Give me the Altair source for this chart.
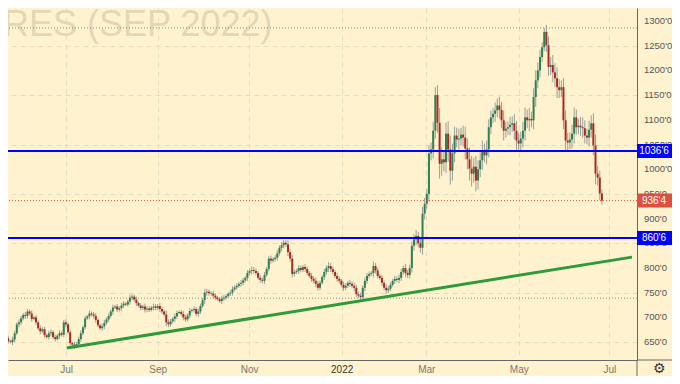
import json
import altair as alt
import pandas as pd

# ---- data ----
closes = [
    658, 652, 650, 655, 668, 686, 690, 698, 705, 703,
    712, 708, 697, 700, 690, 678, 672, 676, 664, 660,
    668, 670, 660, 656, 663, 668, 665, 690, 686, 670,
    648, 645, 642, 646, 656, 668, 680, 698, 702, 708,
    706, 703, 695, 684, 678, 682, 689, 696, 703, 712,
    720, 722, 716, 719, 724, 728, 726, 732, 740, 742,
    736, 729, 724, 719, 722, 716, 718, 715, 720, 722,
    719, 723, 717, 712, 706, 690, 686, 692, 697, 702,
    709, 711, 707, 700, 696, 704, 713, 715, 717, 707,
    712, 723, 735, 750, 752, 749, 748, 744, 740, 737,
    733, 738, 740, 743, 748, 750, 757, 761, 764, 768,
    770, 775, 780, 790, 794, 796, 794, 790, 780, 776,
    774, 786, 798, 819, 815, 818, 821, 830, 841, 846,
    851, 848, 832, 819, 788, 792, 794, 800, 796, 802,
    798, 790, 784, 778, 774, 768, 760, 770, 782, 792,
    800, 804, 798, 792, 784, 778, 774, 766, 760, 764,
    770, 768, 764, 760, 747, 744, 741, 760, 774, 784,
    788, 790, 804, 795, 784, 780, 770, 760, 755, 758,
    766, 774, 778, 776, 780, 792, 800, 790, 786, 800,
    845, 858, 865, 850, 841, 910, 930, 950, 1032, 1040,
    1078, 1150, 1094, 1011, 1020, 1014, 1072, 1040, 997, 1032,
    1068, 1060, 1062, 1070, 1064, 1042, 1020, 1001, 991, 1005,
    977, 1000, 1018, 1038, 1028, 1040, 1085, 1105, 1112, 1119,
    1129, 1120, 1099, 1078, 1082, 1085, 1090, 1093, 1078, 1058,
    1052, 1062, 1078, 1105, 1099, 1102, 1099, 1146, 1180, 1200,
    1227, 1247, 1278, 1251, 1207, 1211, 1196, 1184, 1166, 1160,
    1166, 1099, 1058, 1054, 1060, 1072, 1105, 1085, 1088, 1085,
    1083, 1068, 1064, 1080, 1093, 1048, 991, 983, 951, 936.4,
]
wick = [
    4, 5, 3, 6, 5, 4, 6, 5, 4, 6,
    5, 4, 6, 3, 5, 4, 6, 4, 5, 3,
    5, 6, 4, 5, 3, 6, 4, 5, 6, 4,
    5, 3, 6, 4, 5, 6, 4, 5, 3, 6,
    4, 5, 6, 4, 3, 5, 6, 4, 5, 4,
    6, 3, 5, 4, 6, 5, 3, 4, 6, 5,
    4, 6, 3, 5, 4, 6, 5, 4, 3, 6,
    5, 4, 6, 5, 4, 8, 6, 5, 4, 6,
    5, 3, 4, 6, 5, 4, 6, 3, 5, 4,
    6, 5, 4, 8, 6, 5, 4, 6, 5, 3,
    4, 6, 5, 4, 3, 5, 6, 4, 5, 4,
    6, 5, 4, 6, 5, 7, 6, 5, 4, 6,
    5, 6, 4, 5, 6, 4, 5, 6, 5, 7,
    6, 5, 8, 6, 7, 5, 4, 6, 5, 4,
    6, 5, 4, 6, 5, 7, 6, 5, 4, 6,
    5, 8, 6, 5, 4, 6, 5, 4, 6, 5,
    4, 6, 5, 7, 6, 5, 6, 5, 7, 6,
    5, 4, 9, 6, 5, 4, 6, 5, 7, 6,
    5, 4, 6, 5, 7, 6, 5, 8, 6, 7,
    9, 10, 12, 8, 10, 14, 12, 10, 16, 14,
    18, 16, 20, 30, 24, 18, 22, 25, 28, 20,
    18, 16, 20, 14, 18, 22, 20, 24, 26, 18,
    22, 18, 16, 20, 14, 18, 16, 14, 12, 16,
    14, 18, 16, 20, 14, 12, 16, 14, 18, 20,
    16, 14, 18, 20, 16, 22, 14, 18, 20, 16,
    14, 10, 8, 14, 18, 16, 20, 18, 22, 16,
    14, 18, 20, 16, 14, 18, 20, 16, 14, 18,
    20, 16, 14, 18, 16, 20, 22, 16, 14, 8,
]
first_open = 662

month_pos = [28.11, 70.97, 113.82, 157.14, 196.77, 240.09, 282.49]
month_lab = ["Jul", "Sep", "Nov", "2022", "Mar", "May", "Jul"]
price_ticks = list(range(650, 1301, 50))
blue_levels = [1036.6, 860.6]
last_price = 936.4
dotted_levels = [1286, 739]
trend_x = [28.4, 293.1]
trend_y = [638, 822]
title_text = "RES (SEP 2022)"

# ---- tables ----
opens = [first_open] + closes[:-1]
df = pd.DataFrame({"i": list(range(len(closes))), "o": opens, "c": closes, "w": wick})
df["h"] = df[["o", "c"]].max(axis=1) + df["w"]
df["l"] = df[["o", "c"]].min(axis=1) - df["w"]
df["up"] = df["c"] >= df["o"]

tick_df = pd.DataFrame({"v": price_ticks, "t": ["%d'0" % v for v in price_ticks]})

FONT = "Liberation Sans"
BG = "#fff3cf"
GRID = "#e6dcbf"

xs = alt.Scale(domain=[3.226, 293.09], nice=False, zero=False)
ys = alt.Scale(domain=[613.8, 1326.3], nice=False, zero=False)

x_label_expr = "%s[indexof(%s, datum.value)]" % (json.dumps(month_lab), json.dumps(month_pos))
x_axis = alt.Axis(
    orient="bottom", values=month_pos, labelExpr=x_label_expr, title=None,
    grid=True, gridColor=GRID, gridDash=[5, 4], ticks=False, domainColor="#666",
    labelColor={"condition": {"test": "datum.value == 157.14", "value": "#333333"}, "value": "#777777"},
    labelFontSize=10, labelFont=FONT, labelPadding=4, labelFlush=False, labelOverlap=False,
)
y_axis = alt.Axis(
    orient="right", values=price_ticks, labels=False, title=None,
    grid=True, gridColor=GRID, gridDash=[5, 4], ticks=False, domainColor="#666",
)

base = alt.Chart(df)

wicks = base.mark_rule(color="#9a9d96", strokeWidth=1, clip=True).encode(
    x=alt.X("i:Q", scale=xs, axis=x_axis),
    y=alt.Y("l:Q", scale=ys, axis=y_axis),
    y2="h:Q",
)
bodies = base.mark_bar(width=2, clip=True).encode(
    x=alt.X("i:Q", scale=xs),
    y=alt.Y("o:Q", scale=ys),
    y2="c:Q",
    color=alt.condition("datum.up", alt.value("#2f7f55"), alt.value("#a8291f")),
)

y_labels = alt.Chart(tick_df).mark_text(
    fontSize=9.5, font=FONT, color="#555555", align="left", baseline="middle"
).encode(y=alt.Y("v:Q", scale=ys), x=alt.value(636), text="t:N")

dotted = alt.Chart(pd.DataFrame({"v": dotted_levels})).mark_rule(
    color="#8a8a8a", strokeDash=[1, 2], strokeWidth=1
).encode(y=alt.Y("v:Q", scale=ys))

last_line = alt.Chart(pd.DataFrame({"v": [last_price]})).mark_rule(
    color="#e0533f", strokeDash=[1, 2], strokeWidth=1
).encode(y=alt.Y("v:Q", scale=ys))

blue = alt.Chart(pd.DataFrame({"v": blue_levels})).mark_rule(
    color="#0000ff", strokeWidth=2
).encode(y=alt.Y("v:Q", scale=ys))

trend = alt.Chart(pd.DataFrame({"x": trend_x, "y": trend_y})).mark_line(
    color="#2f9a3a", strokeWidth=3, clip=True
).encode(x=alt.X("x:Q", scale=xs), y=alt.Y("y:Q", scale=ys))

box_df = pd.DataFrame({
    "v": blue_levels + [last_price],
    "t": [str(v).replace(".", "'") for v in blue_levels + [last_price]],
    "col": ["#0000ff", "#0000ff", "#dd5040"],
})
boxes = alt.Chart(box_df).mark_tick(orient="horizontal", size=40, thickness=14, opacity=1).encode(
    y=alt.Y("v:Q", scale=ys),
    x=alt.value(649),
    color=alt.Color("col:N", scale=None),
)
box_text = alt.Chart(box_df).mark_text(
    color="white", fontSize=10, font=FONT, align="center", baseline="middle"
).encode(y=alt.Y("v:Q", scale=ys), x=alt.value(646), text="t:N")

watermark = alt.Chart(pd.DataFrame({"t": [title_text]})).mark_text(
    fontSize=36, font=FONT, color="#e3d8b6", align="left", baseline="top"
).encode(x=alt.value(-5), y=alt.value(0), text="t:N")

frame_v = alt.Chart(pd.DataFrame({"a": [0]})).mark_rule(color="#666", strokeWidth=1).encode(
    x=alt.value(629), y=alt.value(352), y2=alt.value(368)
)
frame_h = alt.Chart(pd.DataFrame({"a": [0]})).mark_rule(color="#666", strokeWidth=1).encode(
    x=alt.value(629), x2=alt.value(664), y=alt.value(352)
)
gear = alt.Chart(pd.DataFrame({"t": ["\u2699"]})).mark_text(
    fontSize=14, color="#333", align="center", baseline="middle"
).encode(x=alt.value(651), y=alt.value(361), text="t:N")

chart = alt.layer(
    wicks, watermark, dotted, bodies, trend, blue, last_line, y_labels, boxes, box_text,
    frame_v, frame_h, gear,
).properties(
    width=629, height=352,
    autosize=alt.AutoSizeParams(type="none"),
    padding={"left": 0, "top": 0, "right": 35, "bottom": 16},
    background=BG,
).configure_view(strokeWidth=0)

chart.save("out.html", embed_options={"renderer": "svg", "actions": False})
